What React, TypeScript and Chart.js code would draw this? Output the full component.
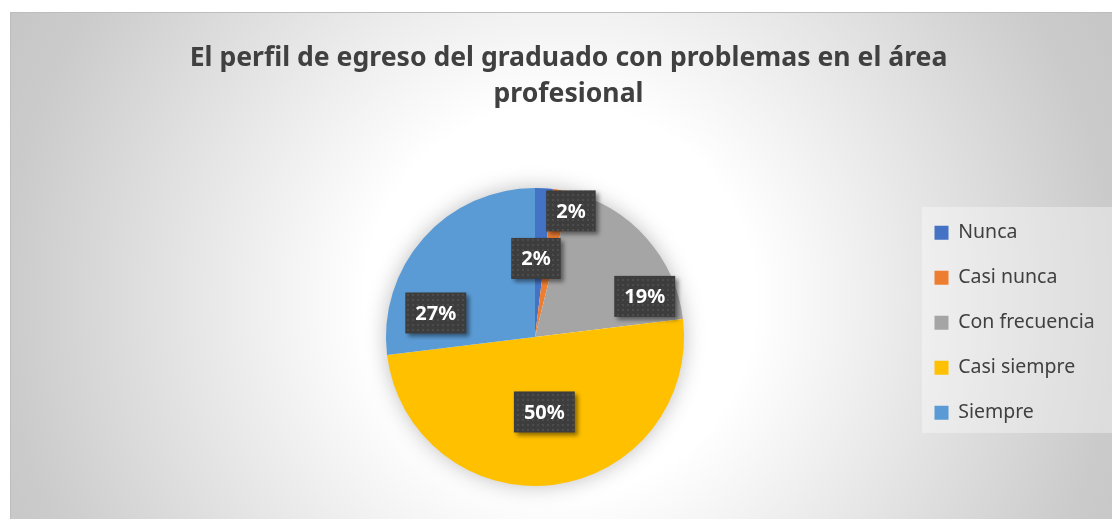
import React, { useEffect, useRef } from "react";
import { Chart, registerables } from "chart.js";

Chart.register(...registerables);

// ---- data ----
const categories = ["Nunca", "Casi nunca", "Con frecuencia", "Casi siempre", "Siempre"];
const counts = [1, 1, 10, 26, 14];
const titleLines = ["El perfil de egreso del graduado con problemas en el área", "profesional"];

// ---- styles ----
const sliceColors = ["#4472C4", "#ED7D31", "#A5A5A5", "#FFC000", "#5B9BD5"];
// label placement: [angle in degrees clockwise from top, fraction of radius]
const labelPlacement: [number, number][] = [
  [15.9, 0.88],
  [0.7, 0.527],
  [69.7, 0.785],
  [172.9, 0.507],
  [283.6, 0.685],
];

const W = 1117;
const H = 507;
const FONT = "'Noto Sans', sans-serif";
const LEGEND_FONT = 19.5;
const LEGEND_PAD = 25.5;
const LEGEND_BOX = 14;

function makePattern(ctx: CanvasRenderingContext2D) {
  const c = document.createElement("canvas");
  c.width = 5;
  c.height = 5;
  const p = c.getContext("2d")!;
  p.fillStyle = "#3d3d3d";
  p.fillRect(0, 0, 5, 5);
  p.fillStyle = "#4c4c4c";
  p.fillRect(2, 2, 2, 2);
  return ctx.createPattern(c, "repeat");
}

export default function App() {
  const ref = useRef<HTMLCanvasElement>(null);

  useEffect(() => {
    const canvas = ref.current!;
    const total = counts.reduce((a, b) => a + b, 0);
    const pctLabels = counts.map((v) => Math.round((v / total) * 100) + "%");

    // measure legend text to place the legend
    const mctx = document.createElement("canvas").getContext("2d")!;
    mctx.font = `${LEGEND_FONT}px ${FONT}`;
    const maxText = Math.max(...categories.map((c) => mctx.measureText(c).width));
    const legendWidth = LEGEND_PAD + LEGEND_BOX + LEGEND_FONT / 2 + maxText + 10;
    const legendLeft = 899;
    const padRight = W - legendLeft - legendWidth;

    const bgPlugin = {
      id: "bgPlugin",
      afterLayout(chart: any) {
        const t = chart.titleBlock;
        if (t) {
          t.left = 0;
          t.right = chart.width;
          t.width = chart.width;
        }
      },
      beforeDraw(chart: any) {
        const { ctx, width, height } = chart;
        ctx.save();
        const cx = 550, cy = 288;
        const g = ctx.createRadialGradient(cx, cy, 0, cx, cy, 650);
        g.addColorStop(0, "#ffffff");
        g.addColorStop(0.3, "#ffffff");
        g.addColorStop(0.85, "#cbcbcb");
        g.addColorStop(1, "#c4c4c4");
        ctx.fillStyle = g;
        ctx.fillRect(0, 0, width, height);
        ctx.fillStyle = "#bdbdbd";
        ctx.fillRect(0, 0, width, 1);
        ctx.fillRect(0, 0, 1, height);
        const lg = chart.legend;
        if (lg) {
          ctx.fillStyle = "rgba(255,255,255,0.35)";
          ctx.fillRect(lg.left + 13, lg.top + 19, width, 226);
        }
        ctx.restore();
      },
      beforeDatasetsDraw(chart: any) {
        const { ctx } = chart;
        const arc = chart.getDatasetMeta(0).data[0];
        if (!arc) return;
        const { x, y, outerRadius } = arc.getProps(["x", "y", "outerRadius"], true);
        ctx.save();
        ctx.shadowColor = "rgba(0,0,0,0.28)";
        ctx.shadowBlur = 22;
        ctx.fillStyle = "#ffffff";
        ctx.beginPath();
        ctx.arc(x, y, outerRadius - 1, 0, Math.PI * 2);
        ctx.fill();
        ctx.restore();
      },
      afterDatasetsDraw(chart: any) {
        const { ctx } = chart;
        const pattern = makePattern(ctx);
        const meta = chart.getDatasetMeta(0);
        meta.data.forEach((arc: any, i: number) => {
          const { x, y, outerRadius } = arc.getProps(["x", "y", "outerRadius"], true);
          const [a, f] = labelPlacement[i];
          const rad = (a * Math.PI) / 180;
          const lx = x + outerRadius * f * Math.sin(rad);
          const ly = y - outerRadius * f * Math.cos(rad);
          const text = pctLabels[i];
          ctx.save();
          ctx.font = `bold 20px ${FONT}`;
          const tw = ctx.measureText(text).width;
          const bw = tw + 20;
          const bh = 41;
          ctx.shadowColor = "rgba(0,0,0,0.45)";
          ctx.shadowBlur = 4;
          ctx.shadowOffsetX = 3;
          ctx.shadowOffsetY = 3;
          ctx.fillStyle = pattern || "#3d3d3d";
          ctx.fillRect(lx - bw / 2, ly - bh / 2, bw, bh);
          ctx.restore();
          ctx.save();
          ctx.font = `bold 20px ${FONT}`;
          ctx.fillStyle = "#ffffff";
          ctx.textAlign = "center";
          ctx.textBaseline = "middle";
          ctx.fillText(text, lx, ly + 1);
          ctx.restore();
        });
      },
    };

    const chart = new Chart(canvas, {
      type: "pie",
      data: {
        labels: categories,
        datasets: [
          {
            data: counts,
            backgroundColor: sliceColors,
            borderWidth: 0,
          },
        ],
      },
      options: {
        responsive: false,
        animation: false,
        events: [],
        layout: {
          padding: { left: 151, right: padRight, top: 0, bottom: 33 },
        },
        plugins: {
          tooltip: { enabled: false },
          title: {
            display: true,
            text: titleLines,
            color: "#404040",
            font: { family: FONT, size: 26.6, weight: "bold", lineHeight: 1.36 },
            padding: { top: 28, bottom: 75.6 },
          },
          legend: {
            display: true,
            position: "right",
            align: "start",
            fullSize: false,
            title: {
              display: true,
              text: " ",
              font: { size: 1, lineHeight: 1.5 },
              padding: { top: 4, bottom: 4 },
            },
            labels: {
              boxWidth: LEGEND_BOX,
              boxHeight: LEGEND_BOX,
              padding: LEGEND_PAD,
              color: "#404040",
              font: { family: FONT, size: LEGEND_FONT },
            },
          },
        },
      },
      plugins: [bgPlugin],
    });

    return () => chart.destroy();
  }, []);

  return (
    <div style={{ position: "fixed", inset: 0, overflow: "hidden", background: "#ffffff" }}>
      <div style={{ position: "absolute", left: 10, top: 12, width: W, height: H }}>
        <canvas ref={ref} width={W} height={H} style={{ display: "block" }} />
      </div>
    </div>
  );
}
